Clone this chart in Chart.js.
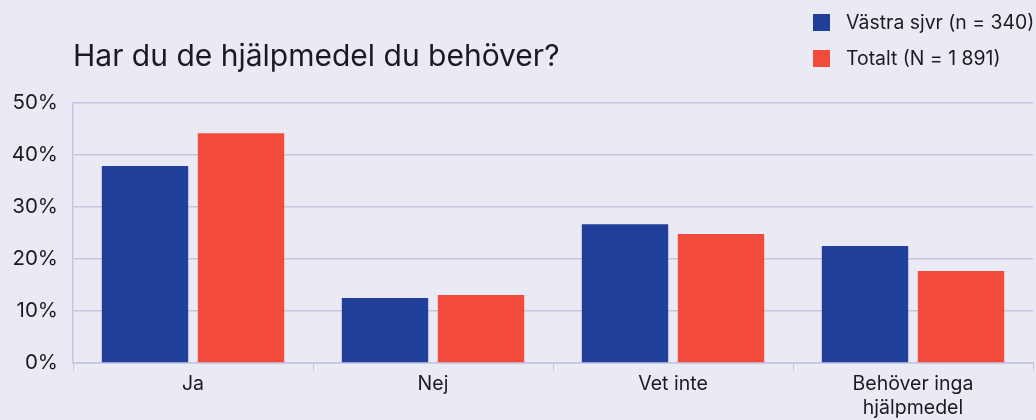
<!DOCTYPE html>
<html>
<head>
<meta charset="utf-8">
<script src="https://cdn.jsdelivr.net/npm/chart.js@4.4.1/dist/chart.umd.min.js"></script>
<style>
  html, body { margin: 0; padding: 0; background: #eaeaf4; }
  #wrap { width: 1036px; height: 420px; position: relative; }
</style>
</head>
<body>
<div id="wrap"><canvas id="c" width="1036" height="420"></canvas></div>
<script>
const title = "Har du de hjälpmedel du behöver?";
const categories = [["Ja"], ["Nej"], ["Vet inte"], ["Behöver inga", "hjälpmedel"]];
const seriesNames = ["Västra sjvr (n = 340)", "Totalt (N = 1 891)"];
const vastraSjvr = [37.9, 12.5, 26.7, 22.5];
const totalt = [44.2, 13.1, 24.8, 17.7];
const yTicks = [0, 10, 20, 30, 40, 50];

const FONT = "Inter, 'Noto Sans', sans-serif";
const TEXT = "#1b1b1f";
const GRID = "#c6c4e2";

const overlay = {
  id: 'overlay',
  afterDraw(chart) {
    const ctx = chart.ctx;
    ctx.save();
    ctx.fillStyle = TEXT;
    ctx.textBaseline = 'middle';
    ctx.textAlign = 'left';
    ctx.font = "400 30px " + FONT;
    ctx.fillText(title, 73, 57);
    ctx.font = "400 19.4px " + FONT;
    chart.data.datasets.forEach((ds, i) => {
      const y = 23 + i * 36;
      ctx.fillStyle = ds.backgroundColor;
      ctx.fillRect(813, y - 9, 17, 17);
      ctx.fillStyle = TEXT;
      ctx.fillText(ds.label, 846, y);
    });
    ctx.restore();
  }
};

new Chart(document.getElementById('c'), {
  type: 'bar',
  data: {
    labels: categories,
    datasets: [
      { label: seriesNames[0], data: vastraSjvr, backgroundColor: '#213f99' },
      { label: seriesNames[1], data: totalt, backgroundColor: '#f24a3b' }
    ]
  },
  options: {
    responsive: false,
    animation: false,
    devicePixelRatio: 1,
    categoryPercentage: 0.8,
    barPercentage: 0.9,
    layout: { padding: { top: 103, right: 3, bottom: 0, left: 0 } },
    plugins: { legend: { display: false }, tooltip: { enabled: false }, title: { display: false } },
    scales: {
      x: {
        afterFit(axis) { axis.height = 57; },
        grid: { display: true, drawOnChartArea: false, drawTicks: true, tickLength: 8, color: GRID, offset: true },
        border: { display: true, color: GRID, width: 1.5 },
        ticks: { color: TEXT, font: { family: FONT, size: 19.5, lineHeight: 1.22 }, padding: 1, maxRotation: 0 }
      },
      y: {
        min: 0, max: 50,
        afterBuildTicks(axis) { axis.ticks = yTicks.map(v => ({ value: v })); },
        afterFit(axis) { axis.width = 73; },
        grid: { color: GRID, lineWidth: 1.5, drawTicks: false },
        border: { display: true, color: GRID, width: 1.5 },
        ticks: { color: TEXT, font: { family: FONT, size: 20.5 }, padding: 15, callback: v => v + '%' }
      }
    }
  },
  plugins: [overlay]
});
</script>
</body>
</html>
